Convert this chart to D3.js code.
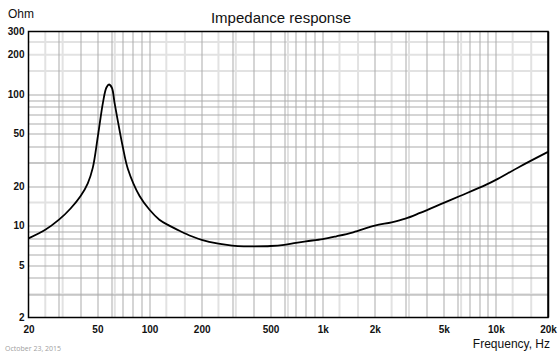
<!DOCTYPE html>
<html>
<head>
<meta charset="utf-8">
<script src="https://cdn.jsdelivr.net/npm/d3@7"></script>
<style>
  body { margin: 0; background: #fff; }
  svg { display: block; font-family: "Liberation Sans", Arial, sans-serif; }
</style>
</head>
<body>
<div id="chart"></div>
<script>
  /* ----------------------- Data ----------------------- */
  const freqHz = [20, 25, 30, 35, 40, 44, 47, 50.3, 53.8, 56.3, 58.3, 60.6, 62.8, 66, 70, 75, 87.6, 100, 114, 130, 150, 175, 200, 250, 300, 350, 400, 500, 600, 700, 800, 1000, 1200, 1500, 2000, 2500, 3000, 3650, 5000, 6200, 8800, 10000, 13800, 20000];
  const impedanceOhm = [8.0, 9.3, 11.1, 13.5, 16.8, 21.0, 27.5, 47.8, 86, 112, 118.5, 112, 86, 60, 40, 27, 16.8, 13.2, 11.1, 10.0, 9.1, 8.3, 7.8, 7.3, 7.05, 6.95, 6.95, 7.0, 7.15, 7.4, 7.6, 7.9, 8.3, 8.9, 10.0, 10.6, 11.3, 12.5, 14.9, 16.8, 20.5, 22.3, 28.2, 36.4];

  const xTicks = [20, 50, 100, 200, 500, 1000, 2000, 5000, 10000, 20000];
  const xTickLabels = ["20", "50", "100", "200", "500", "1k", "2k", "5k", "10k", "20k"];
  const yTicks = [2, 5, 10, 20, 50, 100, 200, 300];

  const xLightGrid = [25, 31.5, 63, 125, 160, 250, 315, 630, 1250, 1600, 2500, 3150, 6300, 12500, 16000];
  const yLightGrid = [3, 15, 30, 150, 200, 250];

  /* ----------------------- Dimensions ----------------------- */
  const W = 560, H = 354;
  const margin = { top: 31.5, right: 12, bottom: 36.5, left: 28.5 };
  const width = W - margin.left - margin.right;
  const height = H - margin.top - margin.bottom;

  const svgRoot = d3.select("#chart").append("svg")
    .attr("width", W).attr("height", H);
  const svg = svgRoot.append("g")
    .attr("transform", `translate(${margin.left},${margin.top})`);

  /* ----------------------- Scales ----------------------- */
  const x = d3.scaleLog().domain([20, 20000]).range([0, width]);
  const y = d3.scaleLog().domain([2, 300]).range([height, 0]);

  /* ----------------------- Grid ----------------------- */
  const xDarkGrid = [];
  const yDarkGrid = [];
  [10, 100, 1000, 10000].forEach((dec) => {
    for (let m = 1; m <= 9; m++) {
      const v = m * dec;
      if (v > 20 && v < 20000) xDarkGrid.push(v);
    }
  });
  [1, 10, 100].forEach((dec) => {
    for (let m = 1; m <= 9; m++) {
      const v = m * dec;
      if (v > 2 && v < 300 && v !== 200) yDarkGrid.push(v);
    }
  });

  // light wide lines first, darker thin lines on top
  svg.append("g").selectAll("line").data(xLightGrid).join("line")
    .attr("x1", (d) => x(d)).attr("x2", (d) => x(d))
    .attr("y1", 0).attr("y2", height)
    .attr("stroke", "#e2e2e2").attr("stroke-width", 2);
  svg.append("g").selectAll("line").data(yLightGrid).join("line")
    .attr("y1", (d) => y(d)).attr("y2", (d) => y(d))
    .attr("x1", 0).attr("x2", width)
    .attr("stroke", "#e2e2e2").attr("stroke-width", 2);

  svg.append("g").selectAll("line").data(xDarkGrid).join("line")
    .attr("x1", (d) => Math.round(x(d)) + 0.5).attr("x2", (d) => Math.round(x(d)) + 0.5)
    .attr("y1", 0).attr("y2", height)
    .attr("stroke", "#ababab").attr("stroke-width", 1);
  svg.append("g").selectAll("line").data(yDarkGrid).join("line")
    .attr("y1", (d) => Math.round(y(d)) + 0.5).attr("y2", (d) => Math.round(y(d)) + 0.5)
    .attr("x1", 0).attr("x2", width)
    .attr("stroke", "#ababab").attr("stroke-width", 1);

  /* ----------------------- Curve ----------------------- */
  const points = freqHz.map((f, i) => [f, impedanceOhm[i]]);
  const line = d3.line()
    .x((d) => x(d[0]))
    .y((d) => y(d[1]))
    .curve(d3.curveCatmullRom.alpha(0.5));

  svg.append("path")
    .datum(points)
    .attr("d", line)
    .attr("fill", "none")
    .attr("stroke", "#000")
    .attr("stroke-width", 1.8)
    .attr("stroke-linejoin", "round");

  /* ----------------------- Frame ----------------------- */
  svg.append("rect")
    .attr("x", 0).attr("y", 0)
    .attr("width", width).attr("height", height)
    .attr("fill", "none").attr("stroke", "#000").attr("stroke-width", 1.5);
  svg.append("line")
    .attr("x1", width + 0.5).attr("x2", width + 0.5)
    .attr("y1", 0).attr("y2", height)
    .attr("stroke", "#000").attr("stroke-width", 1.5);

  /* ----------------------- Axes ----------------------- */
  const xAxis = d3.axisBottom(x)
    .tickValues(xTicks)
    .tickFormat((d, i) => xTickLabels[i])
    .tickSize(0).tickPadding(8);
  const xAxisGroup = svg.append("g")
    .attr("transform", `translate(0,${height})`)
    .call(xAxis);
  xAxisGroup.select(".domain").remove();
  xAxisGroup.selectAll("text")
    .attr("font-size", 10).attr("font-weight", "bold")
    .attr("font-family", "Liberation Sans, Arial, sans-serif")
    .attr("fill", "#111");

  const yAxis = d3.axisLeft(y)
    .tickValues(yTicks)
    .tickFormat(d3.format("d"))
    .tickSize(0).tickPadding(4);
  const yAxisGroup = svg.append("g").call(yAxis);
  yAxisGroup.select(".domain").remove();
  yAxisGroup.selectAll("text")
    .attr("font-size", 10).attr("font-weight", "bold")
    .attr("font-family", "Liberation Sans, Arial, sans-serif")
    .attr("fill", "#111");

  /* ----------------------- Labels ----------------------- */
  svgRoot.append("text")
    .attr("x", 281).attr("y", 23)
    .attr("text-anchor", "middle")
    .attr("font-size", 15)
    .attr("fill", "#111")
    .text("Impedance response");

  svgRoot.append("text")
    .attr("x", 8).attr("y", 18)
    .attr("font-size", 12)
    .attr("fill", "#111")
    .text("Ohm");

  svgRoot.append("text")
    .attr("x", 550).attr("y", 348)
    .attr("text-anchor", "end")
    .attr("font-size", 12)
    .attr("fill", "#111")
    .text("Frequency, Hz");

  svgRoot.append("text")
    .attr("x", 5).attr("y", 351)
    .attr("font-size", 7)
    .attr("font-family", "Open Sans, sans-serif")
    .attr("fill", "#a0a0a0")
    .text("October 23, 2015");
</script>
</body>
</html>
